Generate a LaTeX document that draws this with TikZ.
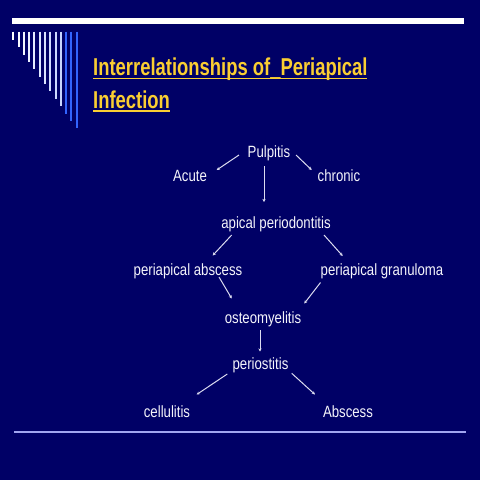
\documentclass[tikz,border=0pt]{standalone}
\usepackage{fontspec}
\setmainfont{Liberation Sans}[FakeStretch=0.81]
\newfontfamily\titlefont{Liberation Sans}[FakeStretch=0.755]
\usetikzlibrary{arrows.meta}
\definecolor{bg}{RGB}{0,0,102}
\definecolor{ttl}{RGB}{250,206,50}
\definecolor{txt}{RGB}{244,244,250}
\definecolor{arrc}{RGB}{220,220,240}
\definecolor{bluebar}{RGB}{50,100,255}
\definecolor{rule}{RGB}{160,165,240}
\begin{document}
\begin{tikzpicture}[x=1pt,y=-1pt,
  lbl/.style={inner sep=0pt,anchor=base,text=txt,font=\fontsize{16.3}{19}\selectfont},
  ttlnode/.style={inner sep=0pt,anchor=base west,text=ttl,font=\titlefont\bfseries\fontsize{24.4}{29}\selectfont},
  arr/.style={draw=arrc,line width=1pt,-{Stealth[length=3.2pt,width=3.2pt]}},
  bar/.style={line width=2pt}]
\useasboundingbox[fill=bg] (0,0) rectangle (480,480);
% top bar
\fill[white] (12,18.3) rectangle (464,23.7);
% vertical lines
\foreach \i in {0,...,12}{
  \pgfmathsetmacro{\xx}{13.3+5.28*\i}
  \pgfmathsetmacro{\yy}{40+7.35*\i}
  \ifnum\i<10
    \pgfmathsetmacro{\mx}{100-3*\i}
    \draw[bar,color=white!\mx!bluebar] (\xx,31.7) -- (\xx,\yy);
  \else
    \draw[bar,color=bluebar] (\xx,31.7) -- (\xx,\yy);
  \fi
}
% title
\node[ttlnode] (t1) at (93,75.7) {Interrelationships of\_Periapical};
\node[ttlnode] (t2) at (93,108) {Infection};
\draw[ttl,line width=1.4pt] (t1.base west) ++(0,2.8) -- ++(274,0);
\draw[ttl,line width=1.4pt] (t2.base west) ++(0,2.8) -- ++(76.5,0);
% nodes
\node[lbl] (pul) at (269,157) {Pulpitis};
\node[lbl] (acu) at (190,181.5) {Acute};
\node[lbl] (chr) at (339,181.5) {chronic};
\node[lbl] (api) at (276,228.5) {apical periodontitis};
\node[lbl] (pab) at (188,275.5) {periapical abscess};
\node[lbl] (pgr) at (382,275.5) {periapical granuloma};
\node[lbl] (ost) at (263,323) {osteomyelitis};
\node[lbl] (per) at (260.5,369) {periostitis};
\node[lbl] (cel) at (167,417) {cellulitis};
\node[lbl] (abs) at (348,417) {Abscess};
% arrow end points
\coordinate (pulL) at (239,155);   \coordinate (acuE) at (216.7,170);
\coordinate (pulR) at (296,155);   \coordinate (chrE) at (311.7,170);
\coordinate (pulB) at (264,166);   \coordinate (apiE) at (264,202);
\coordinate (apiL) at (231.7,235); \coordinate (pabE) at (212.7,255.5);
\coordinate (apiR) at (324,235);   \coordinate (pgrE) at (342.7,256);
\coordinate (pabB) at (219,277);   \coordinate (ostL) at (231.7,298.5);
\coordinate (pgrB) at (320.5,282.5); \coordinate (ostR) at (304.3,303.5);
\coordinate (ostB) at (260,330);   \coordinate (perE) at (260,351.5);
\coordinate (perL) at (227.3,374); \coordinate (celE) at (196.7,394.5);
\coordinate (perR) at (291.7,373.3); \coordinate (absE) at (315,394.5);
\draw[arr] (pulL) -- (acuE);
\draw[arr] (pulR) -- (chrE);
\draw[arr] (pulB) -- (apiE);
\draw[arr] (apiL) -- (pabE);
\draw[arr] (apiR) -- (pgrE);
\draw[arr] (pabB) -- (ostL);
\draw[arr] (pgrB) -- (ostR);
\draw[arr] (ostB) -- (perE);
\draw[arr] (perL) -- (celE);
\draw[arr] (perR) -- (absE);
% bottom rule
\draw[rule,line width=1.8pt] (14,431.7) -- (466,431.7);
\end{tikzpicture}
\end{document}
